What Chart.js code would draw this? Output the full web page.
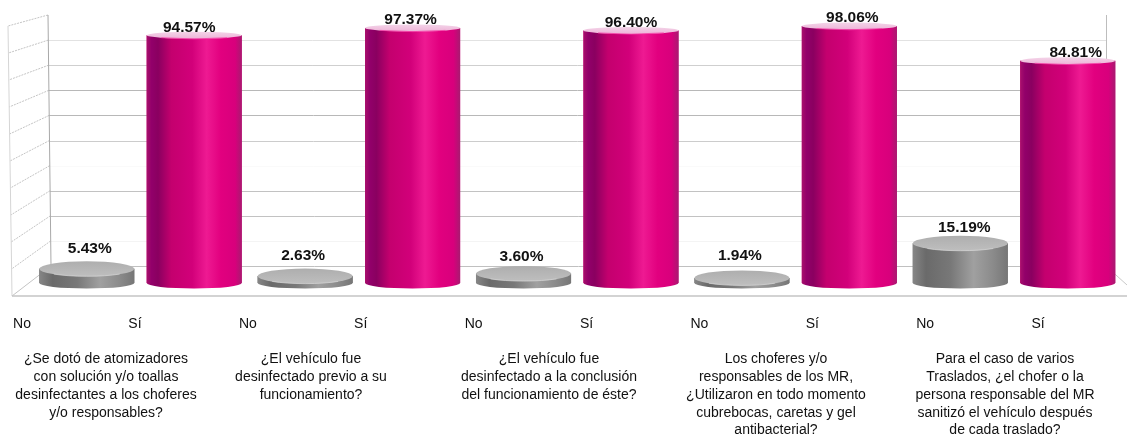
<!DOCTYPE html>
<html lang="es">
<head>
<meta charset="utf-8">
<title>Sanitización de vehículos</title>
<script src="https://cdn.jsdelivr.net/npm/chart.js@4"></script>
<style>
  html, body { margin: 0; padding: 0; background: #fff; }
  canvas { display: block; }
</style>
</head>
<body>
<canvas id="chart" width="1127" height="436"></canvas>
<script>
// Categorias y valores
const questions = [
    ['¿Se dotó de atomizadores', 'con solución y/o toallas', 'desinfectantes a los choferes', 'y/o responsables?'],
    ['¿El vehículo fue', 'desinfectado previo a su', 'funcionamiento?'],
    ['¿El vehículo fue', 'desinfectado a la conclusión', 'del funcionamiento de éste?'],
    ['Los choferes y/o', 'responsables de los MR,', '¿Utilizaron en todo momento', 'cubrebocas, caretas y gel', 'antibacterial?'],
    ['Para el caso de varios', 'Traslados, ¿el chofer o la', 'persona responsable del MR', 'sanitizó el vehículo después', 'de cada traslado?']
];
const answerLabels = ['No', 'Sí', 'No', 'Sí', 'No', 'Sí', 'No', 'Sí', 'No', 'Sí'];
const noValues = [5.43, 2.63, 3.60, 1.94, 15.19];
const siValues = [94.57, 97.37, 96.40, 98.06, 84.81];
const wallTicks = [0, 10, 20, 30, 40, 50, 60, 70, 80, 90, 100];

const FONT = '"Liberation Sans", Arial, sans-serif';

// Color de cada linea de la pared, de 0 a 100 (en el original no son parejas)
const GRID_COLORS = ['#c0c0c0', '#f4f4f4', '#c2c2c2', '#c2c2c2', '#fafafa', '#cccccc', '#b8b8b8', '#b8b8b8', '#cfcfcf', '#e2e2e2', '#ffffff'];
const WALL_RIGHT = 1106;

// Ajuste a mano de los porcentajes, por serie (No, Sí)
const LABEL_DX = [[3, -2, -2, -2, 4], [-5, -2, 0, 3, 8]];
const LABEL_DY = [[0, 0, 3, -2, 0], [0, 0, 0, 0, 0]];

// Pared de fondo, pared izquierda y piso
const wallPlugin = {
    id: 'wall',
    beforeDatasetsDraw(chart) {
        const { ctx, chartArea, scales } = chart;
        const back = v => ({ x: 51 - 0.03 * v, y: scales.yWall.getPixelForValue(v) });
        const front = v => ({ x: 12 - 0.04 * v, y: 296 - 2.7 * v });
        ctx.save();
        ctx.lineWidth = 1;
        wallTicks.forEach((v, i) => {
            const b = back(v), f = front(v);
            ctx.strokeStyle = GRID_COLORS[i];
            ctx.setLineDash([]);
            ctx.beginPath();
            ctx.moveTo(b.x, Math.round(b.y) + 0.5);
            ctx.lineTo(WALL_RIGHT, Math.round(b.y) + 0.5);
            ctx.stroke();
            ctx.strokeStyle = '#c4c4c4';
            ctx.setLineDash(v === 0 ? [] : [2, 1]);
            ctx.beginPath();
            ctx.moveTo(b.x, b.y);
            ctx.lineTo(f.x, f.y);
            ctx.stroke();
        });
        ctx.setLineDash([]);
        // aristas verticales
        ctx.strokeStyle = '#a8a8a8';
        ctx.beginPath();
        ctx.moveTo(back(0).x, back(0).y);
        ctx.lineTo(back(100).x, back(100).y);
        ctx.stroke();
        ctx.strokeStyle = '#bdbdbd';
        ctx.beginPath();
        ctx.moveTo(WALL_RIGHT + 0.5, back(0).y);
        ctx.lineTo(WALL_RIGHT + 0.5, back(100).y);
        ctx.stroke();
        ctx.strokeStyle = '#d5d5d5';
        ctx.beginPath();
        ctx.moveTo(front(0).x, front(0).y);
        ctx.lineTo(front(100).x, front(100).y);
        ctx.stroke();
        // frente del piso
        ctx.strokeStyle = '#c4c4c4';
        ctx.lineWidth = 1.5;
        ctx.beginPath();
        ctx.moveTo(front(0).x, chartArea.bottom);
        ctx.lineTo(1127, chartArea.bottom);
        ctx.stroke();
        ctx.lineWidth = 1;
        ctx.strokeStyle = '#c9c9c9';
        ctx.beginPath();
        ctx.moveTo(WALL_RIGHT, back(0).y);
        ctx.lineTo(1127, 285);
        ctx.stroke();
        ctx.restore();
    }
};

function sideGradient(ctx, left, right, stops) {
    const g = ctx.createLinearGradient(left, 0, right, 0);
    stops.forEach(s => g.addColorStop(s[0], s[1]));
    return g;
}

const MAGENTA_STOPS = [[0, '#a8106c'], [0.05, '#92006a'], [0.12, '#8a0060'], [0.26, '#c4006e'], [0.48, '#d2007a'], [0.63, '#ee1a92'], [0.78, '#e2007f'], [0.93, '#d8007c'], [1, '#a81a70']];
const GREY_STOPS = [[0, '#868686'], [0.14, '#6a6a6a'], [0.4, '#787878'], [0.64, '#a0a0a0'], [0.85, '#8a8a8a'], [1, '#767676']];

// Da volumen de cilindro a cada barra que dibuja la libreria
const cylinderPlugin = {
    id: 'cylinder',
    afterDatasetsDraw(chart) {
        const { ctx } = chart;
        chart.data.datasets.forEach((dataset, d) => {
            const isNo = d === 0;
            chart.getDatasetMeta(d).data.forEach((el, i) => {
                const rx = el.width / 2;
                const left = el.x - rx, right = el.x + rx;
                const value = dataset.data[i];
                const capRy = value < 50 ? 7.5 : 3.5;
                const baseRy = 5.5;
                ctx.save();
                ctx.fillStyle = sideGradient(ctx, left, right, isNo ? GREY_STOPS : MAGENTA_STOPS);
                ctx.beginPath();
                ctx.moveTo(left, el.y);
                ctx.lineTo(left, el.base);
                ctx.ellipse(el.x, el.base, rx, baseRy, 0, Math.PI, 0, true);
                ctx.lineTo(right, el.y);
                ctx.closePath();
                ctx.fill();
                const cap = ctx.createLinearGradient(0, el.y - capRy, 0, el.y + capRy);
                if (isNo) {
                    cap.addColorStop(0, '#aeaeae');
                    cap.addColorStop(1, '#bebebe');
                } else {
                    cap.addColorStop(0, '#f3d4e8');
                    cap.addColorStop(1, '#eeb4d8');
                }
                ctx.fillStyle = cap;
                ctx.beginPath();
                ctx.ellipse(el.x, el.y, rx, capRy, 0, 0, Math.PI * 2);
                ctx.fill();
                // brillo del borde frontal
                ctx.strokeStyle = isNo ? 'rgba(215,215,215,0.7)' : 'rgba(245,60,165,0.8)';
                ctx.lineWidth = 1;
                ctx.beginPath();
                ctx.ellipse(el.x, el.y, rx - 1, capRy, 0, 0.25 * Math.PI, 0.75 * Math.PI);
                ctx.stroke();
                ctx.restore();
            });
        });
    }
};

// Porcentajes sobre cada cilindro
const valueLabelPlugin = {
    id: 'valueLabel',
    afterDraw(chart) {
        const { ctx } = chart;
        ctx.save();
        ctx.font = 'bold 15.5px ' + FONT;
        ctx.fillStyle = '#111111';
        ctx.textAlign = 'center';
        ctx.textBaseline = 'middle';
        chart.data.datasets.forEach((dataset, d) => {
            chart.getDatasetMeta(d).data.forEach((el, i) => {
                const value = dataset.data[i];
                const dy = value < 10 ? 20 : value < 50 ? 15 : 8;
                ctx.fillText(value.toFixed(2) + '%', el.x + LABEL_DX[d][i], el.y - dy + LABEL_DY[d][i]);
            });
        });
        ctx.restore();
    }
};

function fixHeight(height) {
    return scale => {
        scale.height = height;
        scale.paddingLeft = 0;
        scale.paddingRight = 0;
    };
}

new Chart(document.getElementById('chart'), {
    type: 'bar',
    data: {
        labels: questions.map(q => q.join(' ')),
        datasets: [
            { label: 'No', data: noValues, backgroundColor: '#808080', barPercentage: 0.885, categoryPercentage: 0.984 },
            { label: 'Sí', data: siValues, backgroundColor: '#d2007a', barPercentage: 0.885, categoryPercentage: 0.984 }
        ]
    },
    plugins: [wallPlugin, cylinderPlugin, valueLabelPlugin],
    options: {
        responsive: false,
        animation: false,
        layout: { padding: { left: 31.3, right: 3.8, top: 15, bottom: 0 } },
        plugins: { legend: { display: false }, tooltip: { enabled: false } },
        scales: {
            x: { display: false },
            y: { display: false, min: -4.96, max: 102.3 },
            yWall: { display: false, position: 'left', min: -11.95, max: 100 },
            xAnswers: {
                type: 'linear',
                position: 'bottom',
                offset: false,
                weight: 1,
                min: 0.082,
                max: 9.754,
                grid: { display: false, drawTicks: false, offset: false },
                border: { display: false },
                afterBuildTicks: scale => { scale.ticks = answerLabels.map((l, i) => ({ value: i })); },
                afterFit: fixHeight(45),
                ticks: {
                    autoSkip: false, maxRotation: 0, minRotation: 0, padding: 20,
                    color: '#111111', font: { family: FONT, size: 14 },
                    callback: (value, index) => answerLabels[index]
                }
            },
            xQuestions: {
                type: 'linear',
                position: 'bottom',
                offset: false,
                weight: 2,
                min: 31.3,
                max: 1123.2,
                grid: { display: false, drawTicks: false, offset: false },
                border: { display: false },
                afterBuildTicks: scale => { scale.ticks = [106, 311, 549, 776, 1005].map(v => ({ value: v })); },
                afterFit: fixHeight(95),
                ticks: {
                    autoSkip: false, maxRotation: 0, minRotation: 0, padding: 9,
                    color: '#111111', font: { family: FONT, size: 14, lineHeight: 1.28 },
                    callback: (value, index) => questions[index]
                }
            }
        }
    }
});
</script>
</body>
</html>
